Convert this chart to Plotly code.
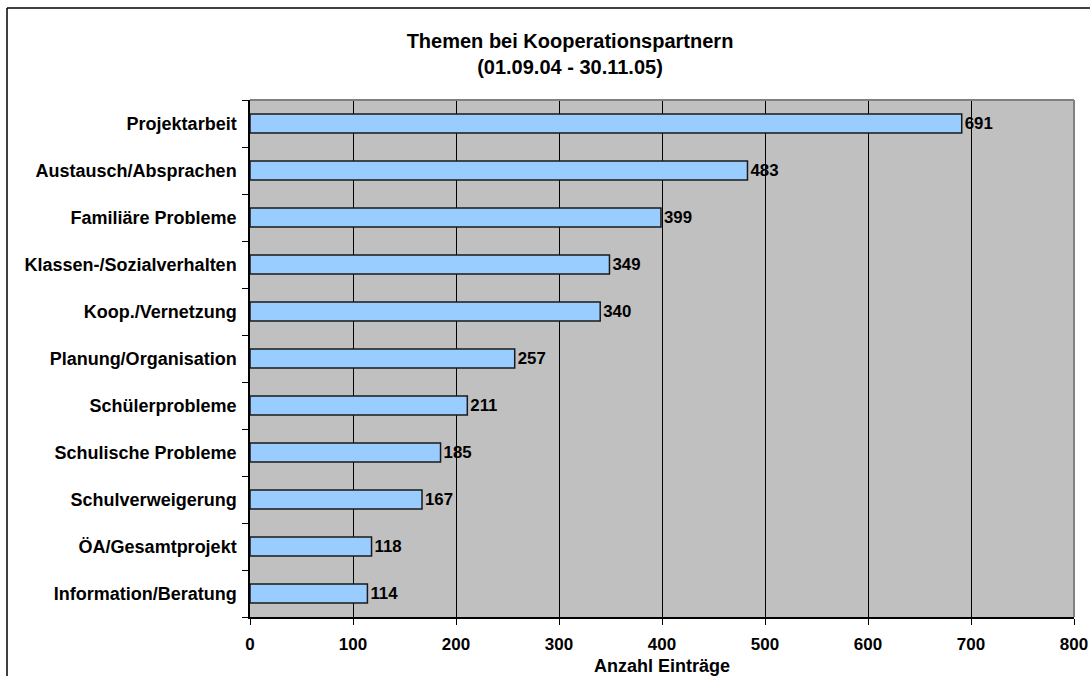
import plotly.graph_objects as go

# Data
themen = ['Projektarbeit', 'Austausch/Absprachen', 'Familiäre Probleme',
          'Klassen-/Sozialverhalten', 'Koop./Vernetzung', 'Planung/Organisation',
          'Schülerprobleme', 'Schulische Probleme', 'Schulverweigerung',
          'ÖA/Gesamtprojekt', 'Information/Beratung']
eintraege = [691, 483, 399, 349, 340, 257, 211, 185, 167, 118, 114]
x_ticks = [0, 100, 200, 300, 400, 500, 600, 700, 800]

FONT = 'Liberation Sans, Arial, sans-serif'

fig = go.Figure()
fig.add_trace(go.Bar(
    x=eintraege,
    y=themen,
    orientation='h',
    width=0.4,
    marker=dict(color='#99CCFF', line=dict(color='#1a1a1a', width=1.5)),
    text=[f'<b>{v}</b>' for v in eintraege],
    textposition='outside',
    textfont=dict(family=FONT, size=17, color='black'),
    cliponaxis=False,
    hovertemplate='%{y}: %{x}<extra></extra>'
))

fig.update_layout(
    width=1090, height=676,
    margin=dict(l=250, r=16, t=100, b=59),
    paper_bgcolor='white',
    plot_bgcolor='#C0C0C0',
    showlegend=False,
    font=dict(family=FONT, color='black'),
    title=dict(
        text='<b>Themen bei Kooperationspartnern<br>(01.09.04 - 30.11.05)</b>',
        x=570 / 1090, xanchor='center', xref='container',
        y=1 - 48 / 676, yanchor='middle', yref='container',
        font=dict(family=FONT, size=20, color='black')
    ),
    xaxis=dict(
        range=[0, 800],
        automargin=False,
        tickvals=x_ticks,
        ticktext=[f'<b>{t}</b>' for t in x_ticks],
        tickfont=dict(family=FONT, size=17, color='black'),
        ticks='outside', ticklen=6, tickcolor='black',
        ticklabelstandoff=5,
        showgrid=True, gridcolor='black', gridwidth=1,
        showline=True, linecolor='black', linewidth=1.5,
        zeroline=False,
        title=dict(text='<b>Anzahl Einträge</b>',
                   font=dict(family=FONT, size=18, color='black'),
                   standoff=6)
    ),
    yaxis=dict(
        type='category',
        autorange='reversed',
        automargin=False,
        tickvals=themen,
        ticktext=[f'<b>{t}</b>' for t in themen],
        tickfont=dict(family=FONT, size=18, color='black'),
        ticks='outside', ticklen=6, tickcolor='black',
        tickson='boundaries',
        showgrid=False,
        showline=True, linecolor='black', linewidth=1.5,
        ticklabelstandoff=8
    )
)

# gray top/right border of the plot area
fig.add_shape(type='line', xref='paper', yref='paper', x0=0, x1=1, y0=1, y1=1,
              line=dict(color='#808080', width=2))
fig.add_shape(type='line', xref='paper', yref='paper', x0=1, x1=1, y0=0, y1=1,
              line=dict(color='#808080', width=2))

# outer chart frame (left and top edges visible)
fig.add_shape(type='line', xref='paper', yref='paper',
              x0=(7 - 250) / 824, x1=(1095 - 250) / 824,
              y0=(617 - 8) / 517, y1=(617 - 8) / 517,
              line=dict(color='black', width=1.5))
fig.add_shape(type='line', xref='paper', yref='paper',
              x0=(7 - 250) / 824, x1=(7 - 250) / 824,
              y0=(617 - 8) / 517, y1=(617 - 690) / 517,
              line=dict(color='black', width=1.5))

# no page margin / scrollbars so the figure fills the window exactly
page_js = ("document.documentElement.style.overflow='hidden';"
           "document.body.style.margin='0';"
           "document.body.style.overflow='hidden';")
fig.write_html('out.html', post_script=page_js,
               config={'displayModeBar': False})
